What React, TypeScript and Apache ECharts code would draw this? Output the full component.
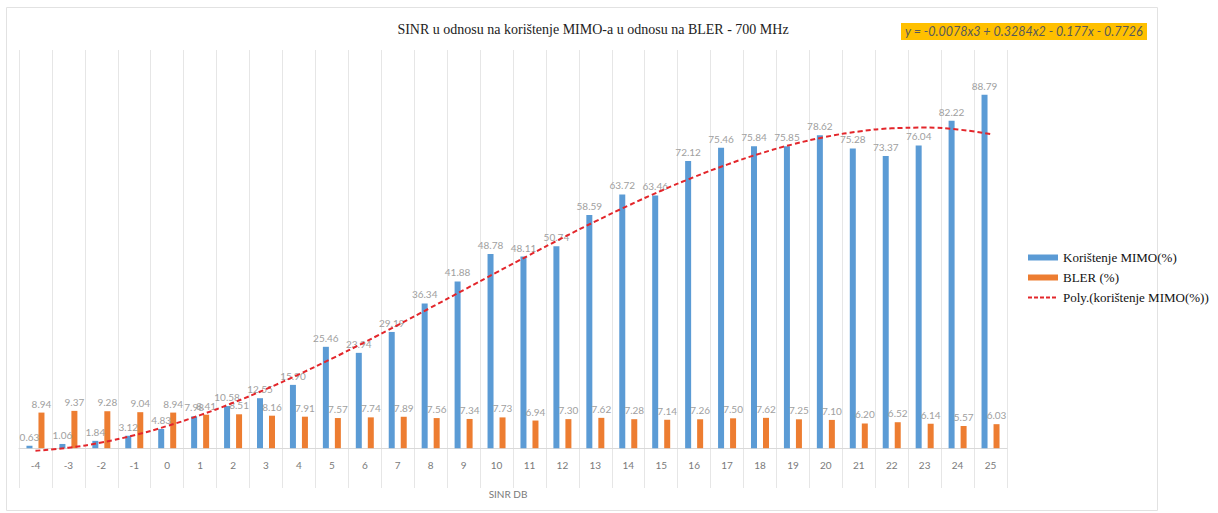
import React, { useEffect, useRef } from "react";
import * as echarts from "echarts";

const categories = ["-4","-3","-2","-1","0","1","2","3","4","5","6","7","8","9","10","11","12","13","14","15","16","17","18","19","20","21","22","23","24","25"];
const mimoValues = [0.63,1.06,1.84,3.12,4.83,7.98,10.58,12.55,15.90,25.46,23.94,29.19,36.34,41.88,48.78,48.11,50.74,58.59,63.72,63.46,72.12,75.46,75.84,75.85,78.62,75.28,73.37,76.04,82.22,88.79];
const blerValues = [8.94,9.37,9.28,9.04,8.94,8.41,8.51,8.16,7.91,7.57,7.74,7.89,7.56,7.34,7.73,6.94,7.30,7.62,7.28,7.14,7.26,7.50,7.62,7.25,7.10,6.20,6.52,6.14,5.57,6.03];
// polynomial trendline values read at each category (from the equation shown)
const trendValues = [-0.63,0.12,1.44,3.27,5.58,8.30,11.40,14.84,18.55,22.50,26.64,30.91,35.29,39.71,44.14,48.52,52.80,56.95,60.92,64.65,68.10,71.22,73.98,76.31,78.18,79.53,80.32,80.51,80.04,78.88];

const titleText = "SINR u odnosu na korištenje MIMO-a u odnosu na BLER - 700 MHz";
const equationText = "y = -0.0078x3 + 0.3284x2 - 0.177x - 0.7726";
const seriesNames = ["Korištenje MIMO(%)", "BLER (%)", "Poly.(korištenje MIMO(%))"];
const axisName = "SINR DB";

export default function App() {
  const ref = useRef<HTMLDivElement>(null);
  useEffect(() => {
    if (!ref.current) return;
    const chart = echarts.init(ref.current, undefined, { renderer: "svg" });
    const labelStyle = {
      show: true,
      position: "top" as const,
      color: "#a0a0a0",
      fontSize: 10,
      fontFamily: "Lato",
      distance: 4,
    };
    chart.setOption({
      animation: false,
      backgroundColor: "#ffffff",
      grid: { left: 19, right: 211, top: 50, bottom: 25, containLabel: false },
      title: {
        text: titleText,
        left: 588,
        textAlign: "center",
        top: 17,
        textStyle: { fontFamily: "Liberation Serif", fontSize: 14, fontWeight: "normal", color: "#222" },
      },
      legend: {
        orient: "vertical",
        left: 1027,
        top: 251,
        padding: 0,
        itemWidth: 30,
        itemHeight: 6,
        itemGap: 7,
        textStyle: { fontFamily: "Liberation Serif", fontSize: 13, color: "#111" },
        data: [
          { name: seriesNames[0], icon: "rect", textStyle: { fontFamily: "Liberation Serif", fontSize: 13, color: "#111" } },
          { name: seriesNames[1], icon: "rect", textStyle: { fontFamily: "Liberation Serif", fontSize: 13, color: "#111" } },
          { name: seriesNames[2], itemStyle: { opacity: 0 }, lineStyle: { type: [4, 2], width: 2 }, textStyle: { fontFamily: "Liberation Serif", fontSize: 13, color: "#111" } },
        ],
      },
      xAxis: {
        type: "category",
        data: categories,
        axisLine: { onZero: true, lineStyle: { color: "#d9d9d9", width: 1 } },
        axisTick: { show: false },
        axisLabel: { color: "#7a7a7a", fontSize: 10, fontFamily: "Lato", margin: -28 },
        splitLine: { show: true, lineStyle: { color: "#e6e6e6", width: 1 } },
      },
      yAxis: {
        type: "value",
        min: -10,
        max: 100,
        show: false,
        splitLine: { show: false },
      },
      series: [
        {
          name: seriesNames[0],
          type: "bar",
          data: mimoValues,
          barWidth: 6,
          barGap: "100%",
          itemStyle: { color: "#5B9BD5" },
          label: { ...labelStyle, formatter: (p: any) => p.value.toFixed(2) },
        },
        {
          name: seriesNames[1],
          type: "bar",
          data: blerValues,
          barWidth: 6,
          itemStyle: { color: "#ED7D31" },
          label: { ...labelStyle, formatter: (p: any) => p.value.toFixed(2) },
        },
        {
          name: seriesNames[2],
          type: "line",
          data: trendValues,
          smooth: true,
          symbol: "none",
          z: 5,
          itemStyle: { color: "#E3262B" },
          lineStyle: { color: "#E3262B", width: 2, type: [5, 3] },
        },
      ],
      graphic: [
        {
          type: "rect",
          shape: { x: 6.5, y: 7.5, width: 1151, height: 503 },
          style: { fill: "none", stroke: "#e2e2e2", lineWidth: 1 },
          silent: true,
        },
        {
          type: "rect",
          shape: { x: 901, y: 23, width: 246, height: 17 },
          style: { fill: "#FFC000" },
        },
        {
          type: "text",
          x: 905,
          y: 31.5,
          style: {
            text: equationText,
            fill: "#595959",
            font: "italic 12.5px Lato",
            verticalAlign: "middle",
          },
        },
        {
          type: "text",
          x: 508,
          y: 494,
          style: {
            text: axisName,
            fill: "#7a7a7a",
            font: "10px Lato",
            align: "center",
            verticalAlign: "middle",
          },
        },
      ],
    });
    return () => chart.dispose();
  }, []);
  return <div ref={ref} style={{ position: "fixed", left: 0, top: 0, width: 1218, height: 513 }} />;
}
